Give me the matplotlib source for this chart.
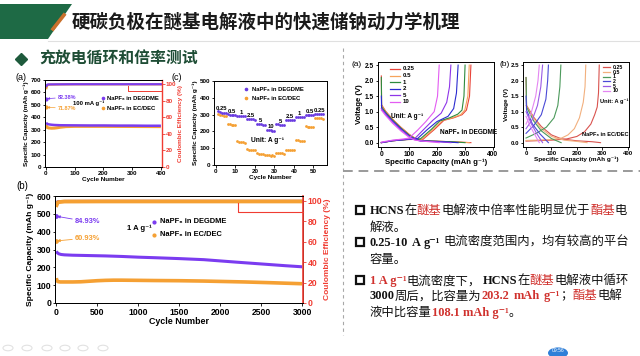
import matplotlib
matplotlib.use('Agg')
import matplotlib.pyplot as plt
from matplotlib.patches import Polygon, Rectangle, Circle
from matplotlib.lines import Line2D

# ---------------- data ----------------
title = "硬碳负极在醚基电解液中的快速储钠动力学机理"
subtitle = "充放电循环和倍率测试"

# (a) cycling at 100 mA g-1
cycA_deg = [1, 2, 5, 10, 20, 30, 50, 100, 150, 200, 250, 300, 350, 400]
capA_deg = [358, 352, 347, 343, 340, 338, 336, 335, 334, 334, 333, 333, 332, 332]
cycA_ec = [1, 2, 5, 10, 20, 30, 40, 50, 70, 100, 200, 300, 400]
capA_ec = [338, 325, 318, 314, 312, 313, 316, 320, 325, 327, 327, 326, 325]
ceA_cyc = [1, 2, 5, 10, 50, 100, 200, 300, 400]
ceA_deg = [82.38, 97.5, 99.3, 99.5, 99.6, 99.7, 99.7, 99.7, 99.7]
ceA_ec = [71.87, 95.0, 98.5, 99.2, 99.5, 99.6, 99.6, 99.6, 99.6]

# (b) long cycling at 1 A g-1
cycB_deg = [1, 10, 30, 60, 100, 200, 400, 600, 800, 1000, 1200, 1500, 1800, 2000, 2200, 2500, 2800, 3000]
capB_deg = [290, 283, 276, 272, 270, 268, 266, 264, 261, 257, 254, 249, 243, 236, 229, 219, 209, 203]
cycB_ec = [1, 5, 20, 50, 100, 200, 300, 400, 500, 600, 700, 800, 1000, 1200, 1500, 1800, 2000, 2300, 2600, 3000]
capB_ec = [140, 128, 120, 118, 118, 118, 119, 122, 125, 127, 128, 128, 127, 126, 125, 123, 121, 118, 114, 108]
ceB_cyc = [1, 5, 20, 100, 500, 1000, 1500, 2000, 2500, 3000]
ceB_deg = [84.93, 98.5, 99.5, 99.7, 99.8, 99.8, 99.8, 99.8, 99.8, 99.8]
ceB_ec = [60.93, 96.0, 98.8, 99.5, 99.6, 99.6, 99.6, 99.6, 99.6, 99.6]

# (c) rate capability
rate_cycles = list(range(1, 56))
rate_deg = [320, 314, 311, 310, 309, 302, 300, 300, 299, 299, 292, 291, 290, 290, 289,
            274, 272, 271, 271, 270, 245, 243, 242, 241, 241, 210, 207, 206, 205, 204,
            242, 242, 241, 241, 241, 267, 266, 266, 265, 265, 287, 286, 286, 285, 285,
            297, 296, 296, 296, 295, 304, 303, 303, 302, 302]
rate_ec = [302, 298, 295, 292, 290, 245, 242, 240, 238, 237, 142, 138, 136, 134, 133,
           93, 91, 90, 89, 88, 70, 67, 65, 63, 62, 62, 58, 55, 60, 52,
           70, 70, 69, 69, 68, 92, 91, 91, 90, 90, 150, 146, 144, 142, 140,
           232, 229, 227, 226, 225, 282, 279, 278, 277, 276]
rate_labels = ['0.25', '0.5', '1', '2.5', '5', '10', '5', '2.5', '1', '0.5', '0.25']

# voltage profiles
v_rates = ['0.25', '0.5', '1', '2', '5', '10']
va_dis_cap = [[0, 1, 15, 40, 70, 100, 120, 140, 180, 250, 322],
              [0, 15, 40, 70, 100, 120, 140, 180, 250, 316],
              [0, 1, 15, 40, 70, 100, 120, 140, 180, 250, 301],
              [0, 1, 15, 40, 70, 100, 120, 140, 200, 276],
              [0, 15, 40, 70, 100, 120, 140, 200, 250],
              [0, 15, 40, 70, 100, 120, 160, 208]]
va_dis_v = [[2.15, 1.22, 1.02, 0.76, 0.5, 0.27, 0.15, 0.08, 0.05, 0.03, 0.0],
            [1.2, 1.0, 0.75, 0.49, 0.26, 0.14, 0.07, 0.05, 0.03, 0.0],
            [2.1, 1.15, 0.98, 0.73, 0.47, 0.24, 0.13, 0.07, 0.05, 0.03, 0.0],
            [1.5, 1.1, 0.95, 0.7, 0.45, 0.22, 0.12, 0.06, 0.04, 0.0],
            [1.1, 0.92, 0.67, 0.42, 0.2, 0.1, 0.05, 0.03, 0.0],
            [1.05, 0.88, 0.63, 0.38, 0.17, 0.08, 0.04, 0.0]]
va_chg_cap = [[0, 40, 90, 150, 190, 225, 260, 290, 306, 317, 322],
              [0, 40, 90, 145, 185, 220, 255, 285, 300, 311, 316],
              [0, 40, 90, 140, 180, 210, 245, 275, 290, 297, 301],
              [0, 40, 90, 130, 165, 200, 240, 260, 270, 276],
              [0, 40, 90, 120, 155, 185, 215, 235, 245, 250],
              [0, 40, 80, 100, 130, 160, 190, 202, 208]]
va_chg_v = [[0.0, 0.06, 0.1, 0.11, 0.42, 0.72, 0.8, 0.9, 1.05, 1.5, 2.5],
            [0.0, 0.06, 0.1, 0.11, 0.42, 0.72, 0.8, 0.9, 1.05, 1.5, 2.5],
            [0.0, 0.06, 0.1, 0.12, 0.43, 0.7, 0.8, 0.92, 1.05, 1.5, 2.5],
            [0.0, 0.06, 0.1, 0.13, 0.42, 0.68, 0.85, 1.1, 1.6, 2.5],
            [0.0, 0.07, 0.11, 0.13, 0.45, 0.72, 0.95, 1.3, 1.8, 2.5],
            [0.02, 0.08, 0.12, 0.15, 0.4, 0.68, 1.0, 1.5, 2.5]]

vb_dis_cap = [[0, 2, 30, 60, 100, 140, 200, 260, 293],
              [0, 30, 60, 100, 150, 200, 240],
              [0, 2, 30, 60, 100, 138],
              [0, 2, 25, 55, 88],
              [0, 20, 40, 65],
              [0, 15, 35, 52]]
vb_dis_v = [[2.1, 1.2, 0.82, 0.52, 0.25, 0.12, 0.06, 0.03, 0.0],
            [1.2, 0.78, 0.45, 0.2, 0.08, 0.04, 0.0],
            [2.1, 1.15, 0.7, 0.38, 0.13, 0.0],
            [1.5, 1.05, 0.6, 0.28, 0.0],
            [1.0, 0.62, 0.32, 0.0],
            [0.85, 0.55, 0.25, 0.0]]
vb_chg_cap = [[0, 100, 160, 200, 230, 255, 270, 280, 285, 288],
              [0, 100, 140, 165, 190, 210, 225, 232, 235],
              [0, 40, 80, 110, 125, 133, 137],
              [0, 30, 60, 78, 85, 88],
              [0, 25, 45, 58, 65],
              [0, 20, 38, 47, 52]]
vb_chg_v = [[0.05, 0.08, 0.12, 0.2, 0.35, 0.6, 0.9, 1.15, 1.6, 2.5],
            [0.07, 0.1, 0.15, 0.25, 0.45, 0.8, 1.3, 1.8, 2.5],
            [0.15, 0.3, 0.5, 0.8, 1.2, 1.8, 2.5],
            [0.3, 0.55, 0.9, 1.4, 2.0, 2.5],
            [0.45, 0.75, 1.2, 1.8, 2.5],
            [0.6, 0.95, 1.5, 2.0, 2.5]]

# text lines: (text, colour key, bold) ; a bare number is an extra gap in pixels
bullet_lines = [
    [("HCNS", 'k', True), ("在", 'k', False), ("醚基", 'r', False), ("电解液中倍率性能明显优于", 'k', False),
     ("酯基", 'r', False), ("电", 'k', False)],
    [("解液。", 'k', False)],
    [("0.25-10", 'k', True), 3, ("A", 'k', True), 3, ("g⁻¹", 'k', True), 4,
     ("电流密度范围内，均有较高的平台", 'k', False)],
    [("容量。", 'k', False)],
    [("1 A g⁻¹", 'r', True), ("电流密度下，", 'k', False), 2, ("HCNS", 'k', True), ("在", 'k', False),
     ("醚基", 'r', False), ("电解液中循环", 'k', False)],
    [("3000", 'k', True), ("周后，比容量为", 'k', False), ("203.2", 'r', True), 4, ("mAh", 'r', True), 4,
     ("g⁻¹", 'r', True), ("；", 'k', False), ("酯基", 'r', False), ("电解", 'k', False)],
    [("液中比容量", 'k', False), ("108.1 mAh g⁻¹", 'r', True), ("。", 'k', False)],
]

# ---------------- style ----------------
W, H = 640, 356
plt.rcParams['font.family'] = ['Liberation Sans', 'DejaVu Sans']
plt.rcParams['font.weight'] = 'bold'
plt.rcParams['axes.linewidth'] = 0.7
CJK = ['Noto Sans CJK SC', 'DejaVu Sans']
SERIF_CJK = ['Liberation Serif', 'Noto Sans CJK SC', 'DejaVu Sans']

PUR = '#7b3cf0'
ORA = '#f5a033'
RED = '#f03c32'
TXT_RED = '#d0312d'

fig = plt.figure(figsize=(6.4, 3.56), dpi=100)
fig.patch.set_facecolor('white')


def rect(l, t, r, b):
    return [l / W, 1 - b / H, (r - l) / W, (b - t) / H]


def fx(x):
    return x / W


def fy(y):
    return 1 - y / H


def ftext(x, y, s, **kw):
    return fig.text(fx(x), fy(y), s, **kw)


def style_ax(ax, ls):
    ax.tick_params(direction='out', length=1.8, width=0.6, labelsize=ls, pad=1)
    for lab in ax.get_xticklabels() + ax.get_yticklabels():
        lab.set_fontweight('bold')


# ---------------- header ----------------
fig.patches.append(Polygon([(fx(0), fy(4)), (fx(72), fy(4)), (fx(48), fy(39)), (fx(0), fy(39))],
                           closed=True, transform=fig.transFigure, facecolor='#1e6a45', edgecolor='none'))
fig.add_artist(Line2D([fx(53), fx(64)], [fy(29), fy(15)], lw=2.6, color='#c9702c', transform=fig.transFigure))
ftext(72, 22, title, fontsize=13.3, weight='bold', family=CJK, va='center', ha='left', color='#1a1a1a')
fig.add_artist(Line2D([fx(48), 1], [fy(40.5), fy(40.5)], lw=0.8, color='#e0e0e0', transform=fig.transFigure))
fig.add_artist(Line2D([fx(21)], [fy(59)], marker='D', ms=6, color='#1e5a3c', transform=fig.transFigure))
ftext(39, 59, subtitle, fontsize=11.4, weight='bold', family=CJK, va='center', ha='left', color='#1e4d35')

# dashed separators
fig.add_artist(Line2D([fx(343), fx(343)], [fy(48), fy(335)], lw=0.8, ls=(0, (3, 3)), color='#a8a8a8',
                      transform=fig.transFigure))
fig.add_artist(Line2D([fx(343), fx(640)], [fy(171), fy(171)], lw=1.4, ls=(0, (5, 3)), color='#9a9a9a',
                      transform=fig.transFigure))

# ---------------- panel (a) cycling ----------------
axA = fig.add_axes(rect(45, 80, 162, 167))
axA.plot(cycA_ec, capA_ec, color=ORA, lw=2.2, solid_capstyle='butt')
axA.plot(cycA_deg, capA_deg, color=PUR, lw=1.8, solid_capstyle='butt')
axA.set_xlim(-3, 404)
axA.set_ylim(0, 700)
axA.set_xticks([0, 100, 200, 300, 400])
axA.set_yticks(range(0, 701, 100))
style_ax(axA, 4.5)
axA.set_ylabel('Specific Capacity (mAh g⁻¹)', fontsize=4.6, labelpad=1.5, weight='bold')
axA.set_xlabel('Cycle Number', fontsize=4.6, labelpad=1, weight='bold')
axA2 = axA.twinx()
axA2.plot(ceA_cyc[1:], ceA_ec[1:], color=ORA, lw=1.6)
axA2.plot(ceA_cyc[1:], ceA_deg[1:], color=PUR, lw=1.6)
axA2.plot(ceA_cyc[:1], ceA_deg[:1], 'o', color=PUR, ms=2)
axA2.plot(ceA_cyc[:1], ceA_ec[:1], 'o', color=ORA, ms=2)
axA2.set_ylim(0, 104.8)
axA2.set_yticks(range(0, 101, 20))
style_ax(axA2, 4.5)
axA2.tick_params(axis='y', colors=RED)
axA2.spines['right'].set_color(RED)
axA2.spines['right'].set_linewidth(1.0)
axA2.set_ylabel('Coulombic Efficiency (%)', fontsize=4.6, color=RED, labelpad=1.5, weight='bold')
axA2.plot([284, 284, 404], [98, 91, 91], color=RED, lw=0.7, clip_on=False)
for val, col, yy in [(ceA_deg[0], PUR, 97.3), (ceA_ec[0], ORA, 108.3)]:
    axA2.annotate(f'{val:.2f}%', xy=(ceA_cyc[0] + 4, val), xytext=(fx(58), fy(yy)),
                  textcoords='figure fraction', fontsize=4, color=col, weight='bold', va='center',
                  arrowprops=dict(arrowstyle='-|>', color=col, lw=0.5, mutation_scale=3,
                                  shrinkA=0, shrinkB=0))
ftext(73, 103, '100 mA g⁻¹', fontsize=4.2, va='center', ha='left', weight='bold')
for yy, col, lab in [(98, PUR, 'NaPF₆ in DEGDME'), (108, ORA, 'NaPF₆ in EC/DEC')]:
    fig.add_artist(Line2D([fx(103)], [fy(yy)], marker='o', ms=1.6, color=col, transform=fig.transFigure))
    ftext(107, yy, lab, fontsize=4.2, va='center', ha='left', weight='bold')
ftext(16, 78, '(a)', fontsize=6.5, weight='normal', va='center', ha='left')

# ---------------- panel (c) rate ----------------
axC = fig.add_axes(rect(214, 81, 327, 165))
axC.plot(rate_cycles, rate_ec, 'o', color=ORA, ms=2.0, mew=0)
axC.plot(rate_cycles, rate_deg, 'o', color='#6a3be0', ms=2.0, mew=0)
axC.set_xlim(-1, 57)
axC.set_ylim(0, 500)
axC.set_xticks(range(0, 51, 10))
axC.set_yticks(range(0, 501, 100))
style_ax(axC, 4.5)
axC.set_ylabel('Specific Capacity (mAh g⁻¹)', fontsize=4.6, labelpad=1.5, weight='bold')
axC.set_xlabel('Cycle Number', fontsize=4.6, labelpad=1, weight='bold')
for i, lab in enumerate(rate_labels):
    seg = rate_deg[i * 5:(i + 1) * 5]
    xc = rate_cycles[i * 5 + 2]
    axC.text(xc, max(seg) + 4, lab, fontsize=4.2, ha='center', va='bottom', weight='bold')
axC.text(0.47, 0.29, 'Unit: A g⁻¹', transform=axC.transAxes, fontsize=4.8, ha='center', va='center',
         weight='bold')
for yy, col, lab in [(89.3, '#6a3be0', 'NaPF₆ in DEGDME'), (98.3, ORA, 'NaPF₆ in EC/DEC')]:
    fig.add_artist(Line2D([fx(246)], [fy(yy)], marker='o', ms=1.6, color=col, transform=fig.transFigure))
    ftext(252, yy, lab, fontsize=4.2, va='center', ha='left', weight='bold')
ftext(172, 78, '(c)', fontsize=6.5, weight='normal', va='center', ha='left')

# ---------------- panel (b) long cycling ----------------
axB = fig.add_axes(rect(55, 196, 303, 303))
axB.plot(cycB_ec, capB_ec, color=ORA, lw=2.6, solid_capstyle='butt')
axB.plot(cycB_deg, capB_deg, color=PUR, lw=2.2, solid_capstyle='butt')
axB.set_xlim(-15, 3010)
axB.set_ylim(0, 600)
axB.set_xticks(range(0, 3001, 500))
axB.set_yticks(range(0, 601, 100))
style_ax(axB, 6.2)
axB.tick_params(axis='x', pad=1.6)
axB.set_ylabel('Specific Capacity (mAh g⁻¹)', fontsize=6.1, labelpad=1.5, weight='bold')
axB.set_xlabel('Cycle Number', fontsize=6.4, labelpad=0.3, weight='bold')
axB2 = axB.twinx()
axB2.plot(ceB_cyc[1:], ceB_deg[1:], color=PUR, lw=2.0)
axB2.plot(ceB_cyc[1:], ceB_ec[1:], color=ORA, lw=2.8)
axB2.plot(ceB_cyc[:1], ceB_deg[:1], 'o', color=PUR, ms=2.4)
axB2.plot(ceB_cyc[:1], ceB_ec[:1], 'o', color=ORA, ms=2.4)
axB2.set_ylim(0, 104.9)
axB2.set_yticks(range(0, 101, 20))
style_ax(axB2, 6.2)
axB2.tick_params(axis='y', colors=RED, pad=1.5)
axB2.spines['right'].set_color(RED)
axB2.spines['right'].set_linewidth(1.2)
axB2.set_ylabel('Coulombic Efficiency (%)', fontsize=6.0, color=RED, labelpad=1.5, weight='bold')
axB2.plot([2215, 2215, 3010], [98.4, 89.3, 89.3], color=RED, lw=0.8, clip_on=False)
for val, col, yy in [(ceB_deg[0], PUR, 221.7), (ceB_ec[0], ORA, 238)]:
    axB2.annotate(f'{val:.2f}%', xy=(ceB_cyc[0] + 10, val), xytext=(fx(75), fy(yy)),
                  textcoords='figure fraction', fontsize=5.4, color=col, weight='bold', va='center',
                  arrowprops=dict(arrowstyle='-|>', color=col, lw=0.6, mutation_scale=4,
                                  shrinkA=0, shrinkB=0))
ftext(127, 228, '1 A g⁻¹', fontsize=5.5, va='center', ha='left', weight='bold')
for yy, col, lab in [(221.7, PUR, 'NaPF₆ in DEGDME'), (235, ORA, 'NaPF₆ in EC/DEC')]:
    fig.add_artist(Line2D([fx(154)], [fy(yy)], marker='o', ms=2.0, color=col, transform=fig.transFigure))
    ftext(160, yy, lab, fontsize=5.4, va='center', ha='left', weight='bold')
ftext(16, 186, '(b)', fontsize=7, weight='normal', va='center', ha='left')

# ---------------- voltage panels ----------------
cols_a = ['#e8443a', '#f6a35c', '#2e8b3e', '#2b2bd0', '#8e35e8', '#e35cf2']
cols_b = ['#d9534f', '#f2b07e', '#4c9a5c', '#4a4ad6', '#9b5ae6', '#e486f2']


def volt_panel(box, dis_c, dis_v, chg_c, chg_v, cols, ls_tick, ls_lab, leg, unit_xy, name_xy, name, tag, tag_x,
               leg_fs):
    ax = fig.add_axes(rect(*box))
    for i in range(len(v_rates)):
        ax.plot(dis_c[i], dis_v[i], color=cols[i], lw=0.8)
        ax.plot(chg_c[i], chg_v[i], color=cols[i], lw=0.8)
    ax.set_xlim(-12, 405)
    ax.set_ylim(-0.14, 2.6)
    ax.set_xticks([0, 100, 200, 300, 400])
    ax.set_yticks([0.0, 0.5, 1.0, 1.5, 2.0, 2.5])
    ax.yaxis.set_major_formatter(matplotlib.ticker.FormatStrFormatter('%.1f'))
    style_ax(ax, ls_tick)
    ax.set_xlabel('Specific Capacity (mAh g⁻¹)', fontsize=ls_lab, labelpad=0.5, weight='bold')
    ax.set_ylabel('Voltage (V)', fontsize=ls_lab, labelpad=1, weight='bold')
    lx0, lx1, tx, y0, dy = leg
    for i, lab in enumerate(v_rates):
        yy = y0 + i * dy
        fig.add_artist(Line2D([fx(lx0), fx(lx1)], [fy(yy), fy(yy)], lw=0.9, color=cols[i],
                              transform=fig.transFigure))
        ftext(tx, yy, lab, fontsize=leg_fs, va='center', ha='left', weight='bold')
    ftext(unit_xy[0], unit_xy[1], 'Unit: A g⁻¹', fontsize=leg_fs + 0.3, va='center', ha='center', weight='bold')
    ftext(name_xy[0], name_xy[1], name, fontsize=leg_fs + 0.3, va='center', ha='center', weight='bold')
    ftext(tag_x, 65, tag, fontsize=6, weight='normal', va='center', ha='left')
    return ax


volt_panel((378, 62, 494, 147), va_dis_cap, va_dis_v, va_chg_cap, va_chg_v, cols_a, 4.8, 5.6,
           (390, 400, 403, 69, 6.6), (407, 116), (469, 132), 'NaPF₆ in DEGDME', '(a)', 351, 4.4)
volt_panel((523, 62, 629, 147), vb_dis_cap, vb_dis_v, vb_chg_cap, vb_chg_v, cols_b, 4.4, 4.6,
           (603, 610, 613, 67.3, 4.7), (614, 101), (605, 135), 'NaPF₆ in EC/DEC', '(b)', 499, 3.8)

# ---------------- bullet text ----------------
renderer = fig.canvas.get_renderer()
line_centers = [210, 226.7, 241.7, 258.3, 280, 295, 311.7]
bullet_rows = [0, 2, 4]
for bi in bullet_rows:
    yc = line_centers[bi]
    fig.patches.append(Rectangle((fx(355.5), fy(yc + 4)), 8 / W, 8 / H, transform=fig.transFigure,
                                 facecolor='white', edgecolor='#111111', lw=1.6))
for segs, yc in zip(bullet_lines, line_centers):
    x = 370
    for seg in segs:
        if not isinstance(seg, tuple):
            x += seg
            continue
        s, c, bold = seg
        col = TXT_RED if c == 'r' else '#111111'
        t = ftext(x, yc + 4.3, s, fontsize=8.9, color=col, weight='bold' if bold else 'normal',
                  family=SERIF_CJK, ha='left', va='baseline')
        x += t.get_window_extent(renderer).width

# ---------------- footer decorations ----------------
for cx in [8, 27, 47, 65, 83, 103]:
    fig.patches.append(Circle((fx(cx), fy(348)), 5 / W, transform=fig.transFigure,
                              facecolor='none', edgecolor='#e2e2e2', lw=0.8))
fig.patches.append(Circle((fx(558), fy(353)), 10 / W, transform=fig.transFigure,
                          facecolor='#2f7fd8', edgecolor='none'))
ftext(558, 351, '09:56', fontsize=3.6, color='white', ha='center', va='center', weight='normal')

fig.savefig('out.png', dpi=100, facecolor='white')
